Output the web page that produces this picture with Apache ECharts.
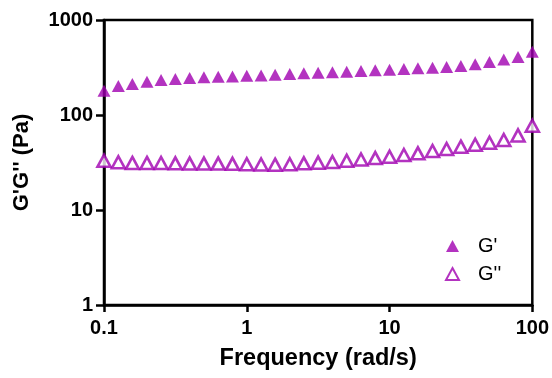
<!DOCTYPE html>
<html>
<head>
<meta charset="utf-8">
<script src="https://cdn.jsdelivr.net/npm/echarts@6/dist/echarts.min.js"></script>
<style>html,body{margin:0;padding:0;background:#fff}#c{width:552px;height:378px}</style>
</head>
<body>
<div id="c"></div>
<script>
// Frequency (rad/s): 10 points per decade, 0.1 .. 100
const frequency = [0.1,0.126,0.158,0.2,0.251,0.316,0.398,0.501,0.631,0.794,
  1,1.26,1.58,2,2.51,3.16,3.98,5.01,6.31,7.94,
  10,12.6,15.8,20,25.1,31.6,39.8,50.1,63.1,79.4,100];
const gPrime = [180,202,212,224,234,239,245,250,253,255,
  259,261,266,270,275,279,281,286,290,295,
  300,305,310,315,320,328,342,361,385,408,463];
const gDouble = [33,31.8,31.3,31.3,31.2,31,30.8,30.8,30.8,30.6,
  30.3,30.1,30,30.3,31,31.5,32,33,34,35.2,
  36.4,37.9,39.5,41.8,43.9,46.4,48.7,51,54.6,61,77];
const xTicks = [0.1,1,10,100];
const yTicks = [1,10,100,1000];

const color = '#a000b0';
const font = 'Liberation Sans, Arial, sans-serif';
const chart = echarts.init(document.getElementById('c'));
chart.setOption({
  animation: false,
  backgroundColor: '#fff',
  grid: {left: 104, right: 19, top: 20, bottom: 73, show: true, borderColor: '#000', borderWidth: 2.5},
  legend: {
    orient: 'vertical', left: 440, top: 231, itemGap: 8, itemWidth: 13, itemHeight: 12,
    textStyle: {fontFamily: font, fontSize: 20, color: '#000', padding: [0,0,0,14]},
    data: [{name: "G'", icon: 'triangle'}, {name: "G''", icon: 'triangle'}]
  },
  xAxis: {
    type: 'log', logBase: 10, min: 0.1, max: 100,
    name: 'Frequency (rad/s)', nameLocation: 'middle', nameGap: 42,
    nameTextStyle: {fontFamily: font, fontSize: 23.5, fontWeight: 'bold', color: '#000'},
    axisLine: {lineStyle: {color: '#000', width: 2.5}},
    axisTick: {show: true, length: 7, lineStyle: {width: 2.5, color: '#000'}},
    minorTick: {show: false},
    splitLine: {show: false},
    axisLabel: {fontFamily: font, fontSize: 20, fontWeight: 'bold', color: '#000', margin: 13,
      formatter: v => { const t = xTicks.find(x => Math.abs(x - v) / x < 1e-6); return t === undefined ? '' : String(t); }}
  },
  yAxis: {
    type: 'log', logBase: 10, min: 1, max: 1000,
    name: "G'G'' (Pa)", nameLocation: 'middle', nameGap: 71,
    nameTextStyle: {fontFamily: font, fontSize: 22, fontWeight: 'bold', color: '#000'},
    axisLine: {lineStyle: {color: '#000', width: 2.5}},
    axisTick: {show: true, length: 8, lineStyle: {width: 2.5, color: '#000'}},
    splitLine: {show: false},
    axisLabel: {fontFamily: font, fontSize: 20, fontWeight: 'bold', color: '#000', margin: 11,
      formatter: v => { const t = yTicks.find(y => Math.abs(y - v) / y < 1e-6); return t === undefined ? '' : String(t); }}
  },
  series: [
    {name: "G'", type: 'scatter', symbol: 'triangle', symbolSize: [13, 12],
      itemStyle: {color: color},
      data: frequency.map((f, i) => [f, gPrime[i]])},
    {name: "G''", type: 'scatter', symbol: 'triangle', symbolSize: [13, 12],
      itemStyle: {color: '#fff', borderColor: color, borderWidth: 2.6},
      data: frequency.map((f, i) => [f, gDouble[i]])}
  ]
});
</script>
</body>
</html>
